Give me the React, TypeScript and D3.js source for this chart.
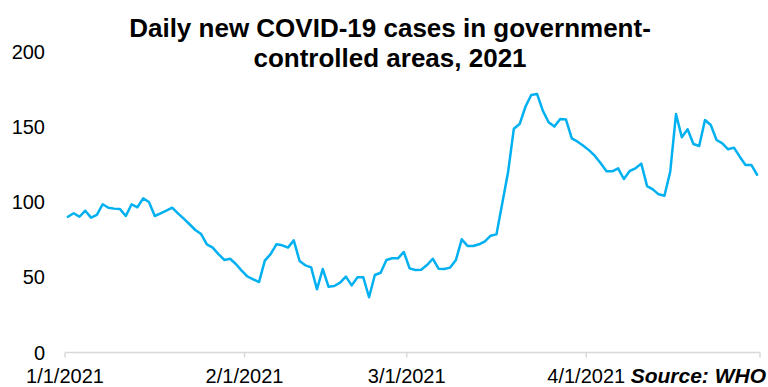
import React from "react";
import * as d3 from "d3";

const START = Date.UTC(2021, 0, 1);
const END = Date.UTC(2021, 4, 1);
const DAY = 86400000;

const values: number[] = [
  90.2, 92.5, 90.2, 94.2, 89.6, 91.4, 98.5, 96.2, 95.6, 95.3,
  90.7, 98.5, 96.5, 102.4, 100, 90.7, 92.5, 94.2, 96.2, 92.5,
  88.9, 85.2, 81.4, 78.7, 71.9, 69.7, 65.4, 61.5, 62.3, 58.8,
  54.4, 50.5, 48.6, 46.8, 61.0, 65.4, 71.9, 71.2, 69.7, 74.5,
  60.8, 57.9, 56.6, 42.0, 55.5, 43.7, 44.2, 46.4, 50.4, 44.6,
  50.0, 50.0, 36.7, 51.5, 53.0, 61.5, 62.6, 62.6, 66.8, 55.9,
  54.8, 55.0, 58.1, 62.3, 55.7, 55.5, 56.4, 61.5, 75.2, 70.8,
  70.8, 71.9, 73.9, 77.6, 78.5, 99.1, 119.7, 148.7, 151.8, 163.3,
  171.1, 171.8, 160.7, 153.0, 150.1, 155.1, 154.8, 142.3, 140.1, 137.4,
  134.3, 130.6, 125.7, 120.4, 120.4, 122.4, 115.3, 120.6, 122.4, 125.5,
  110.6, 108.4, 105.1, 104.2, 120.1, 158.5, 143.0, 148.3, 138.5, 137.2,
  154.5, 151.2, 141.2, 139.0, 135.0, 136.1, 130.1, 124.6, 124.6, 118.1,
];

const dates: Date[] = values.map((_, i) => new Date(START + i * DAY));

const xTicks: Date[] = [
  new Date(Date.UTC(2021, 0, 1)),
  new Date(Date.UTC(2021, 1, 1)),
  new Date(Date.UTC(2021, 2, 1)),
  new Date(Date.UTC(2021, 3, 1)),
  new Date(Date.UTC(2021, 4, 1)),
];
const xTickLabels: string[] = ["1/1/2021", "2/1/2021", "3/1/2021", "4/1/2021", ""];
const yTicks: number[] = [0, 50, 100, 150, 200];

const titleLines: string[] = ["Daily new COVID-19 cases in government-", "controlled areas, 2021"];
const sourceText = "Source: WHO";

const W = 768;
const H = 387;
const FONT = "Liberation Sans, Arial, sans-serif";

export default function App() {
  const x = d3.scaleUtc().domain([new Date(START), new Date(END)]).range([65, 760]);
  const y = d3.scaleLinear().domain([0, 200]).range([352.5, 51.5]);
  const line = d3
    .line<number>()
    .x((_, i) => x(new Date(dates[i].getTime() + DAY / 2)))
    .y((d) => y(d));

  return (
    <svg
      width={W}
      height={H}
      style={{ position: "absolute", left: 0, top: 0, background: "#fff" }}
      fontFamily={FONT}
    >
      {titleLines.map((t, i) => (
        <text
          key={t}
          x={390}
          y={37 + i * 30}
          textAnchor="middle"
          fontWeight="bold"
          fontSize={26}
          fill="#000"
        >
          {t}
        </text>
      ))}
      {yTicks.map((t) => (
        <text key={t} x={45} y={y(t)} dy="0.35em" textAnchor="end" fontSize={20} fill="#000">
          {t}
        </text>
      ))}
      <line x1={65} x2={760} y1={y(0)} y2={y(0)} stroke="#d9d9d9" strokeWidth={1.5} />
      {xTicks.map((t, i) => (
        <g key={i}>
          <line x1={x(t)} x2={x(t)} y1={y(0)} y2={y(0) + 5} stroke="#d9d9d9" strokeWidth={1.5} />
          {xTickLabels[i] && (
            <text x={x(t)} y={382.5} textAnchor="middle" fontSize={20} fill="#000">
              {xTickLabels[i]}
            </text>
          )}
        </g>
      ))}
      <path
        d={line(values) || ""}
        fill="none"
        stroke="#00b0f0"
        strokeWidth={2.5}
        strokeLinejoin="round"
        strokeLinecap="round"
      />
      <text x={766} y={382.5} textAnchor="end" fontSize={21} fontWeight="bold" fontStyle="italic" fill="#000">
        {sourceText}
      </text>
    </svg>
  );
}
